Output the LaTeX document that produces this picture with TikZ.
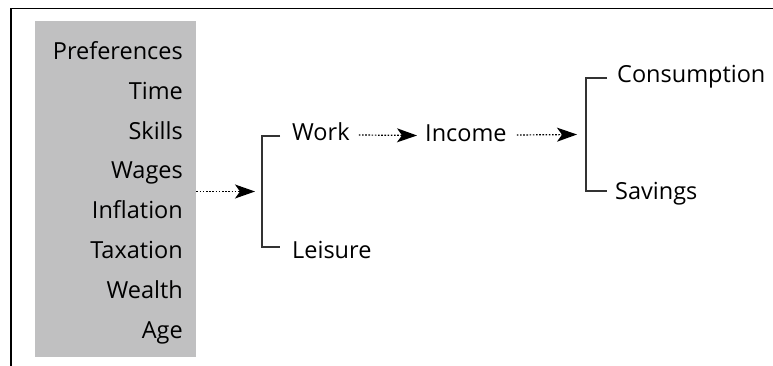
\documentclass[tikz,border=0pt]{standalone}
\usepackage{fontspec}
\setmainfont{Open Sans}
\usetikzlibrary{arrows.meta,calc}
\definecolor{boxgray}{HTML}{C0C0C1}
\definecolor{brk}{HTML}{333333}
\tikzset{
  item/.style={anchor=base east,inner sep=0pt,font=\fontsize{23.5}{26}\selectfont},
  lbl/.style={anchor=base west,inner sep=0pt,font=\fontsize{23.5}{26}\selectfont},
  bracketline/.style={draw=brk,line width=1.2pt},
  flow/.style={line width=1.2pt,dash pattern=on 1.6pt off 1.6pt,
    -{Stealth[length=20pt,width=14pt,inset=5pt]}},
}
\begin{document}
\begin{tikzpicture}[x=1pt,y=-1pt]
\useasboundingbox (0,0) rectangle (773,366);
% frame (top and left edges visible)
\draw[line width=1.2pt] (11,380) -- (11,8.5) -- (790,8.5);
% gray box
\node[fill=boxgray,inner sep=0pt,minimum width=161pt,minimum height=336pt,anchor=north west] (box) at (35,21) {};
% factors
\foreach \t [count=\i from 0] in {Preferences,Time,Skills,Wages,Inflation,Taxation,Wealth,Age}{
  \node[item] (f\i) at (183,59.3+39.86*\i) {\t};
}
% bracket 1
\coordinate (b1top) at (262,136);
\coordinate (b1bot) at (262,247);
\coordinate (b1mid) at (262,191.5);
\node[lbl] (work) at (292,141) {Work};
\node[lbl] (leisure) at (292,258) {Leisure};
\draw[bracketline] (280,136) -- (b1top) -- (b1bot) -- (280,247);
% bracket 2
\coordinate (b2top) at (586,78);
\coordinate (b2bot) at (586,191);
\coordinate (b2mid) at (586,134.5);
\node[lbl] (income) at (425,141.5) {Income};
\node[lbl] (cons) at (617,83) {Consumption};
\node[lbl] (sav) at (615,200) {Savings};
\draw[bracketline] (607,78) -- (b2top) -- (b2bot) -- (607,191);
% arrows
\draw[flow] (box.east |- b1mid) -- ([xshift=-7pt]b1mid);
\draw[flow] ($(work.base east)+(9,-6)$) -- ($(income.base west)+(-8,-6)$);
\draw[flow] ($(income.base east)+(10,-6.5)$) -- ([xshift=-9pt]b2mid);
\end{tikzpicture}
\end{document}
